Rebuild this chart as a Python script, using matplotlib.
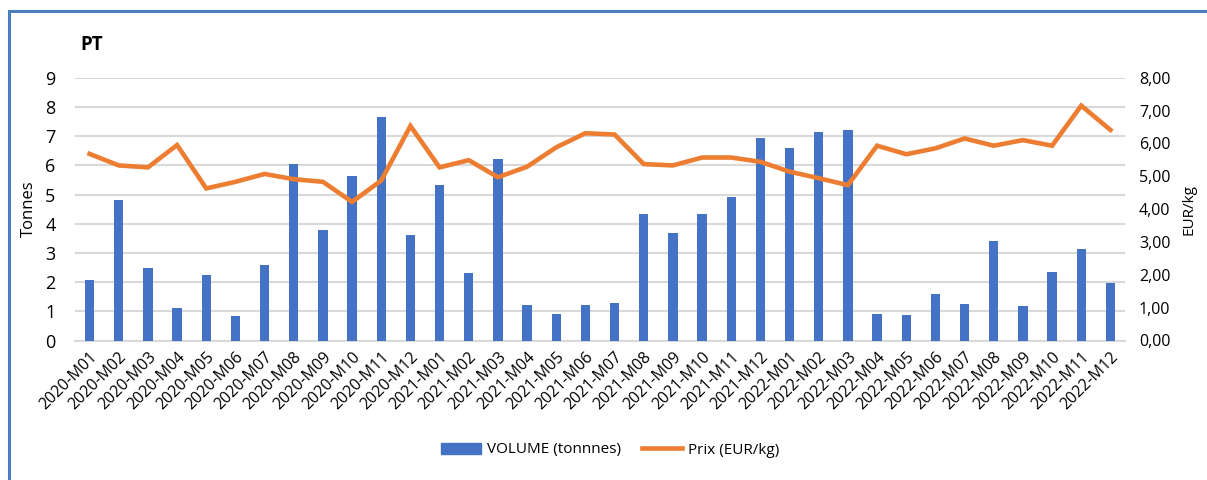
import matplotlib
matplotlib.use("Agg")
import matplotlib.pyplot as plt
from matplotlib.patches import Rectangle
from matplotlib.lines import Line2D
from matplotlib.ticker import FuncFormatter

plt.rcParams['font.family'] = ['Open Sans', 'DejaVu Sans']

months = [f"{y}-M{m:02d}" for y in (2020, 2021, 2022) for m in range(1, 13)]

volume_t = [2.06, 4.82, 2.50, 1.10, 2.26, 0.85, 2.60, 6.06, 3.77, 5.62, 7.66, 3.63,
            5.34, 2.30, 6.22, 1.20, 0.90, 1.22, 1.27, 4.34, 3.67, 4.34, 4.90, 6.95,
            6.59, 7.15, 7.21, 0.90, 0.89, 1.58, 1.26, 3.40, 1.18, 2.36, 3.12, 1.96]

prix_eur_kg = [5.68, 5.33, 5.27, 5.95, 4.63, 4.83, 5.07, 4.91, 4.83, 4.22, 4.87, 6.53,
               5.27, 5.49, 4.97, 5.29, 5.88, 6.31, 6.27, 5.37, 5.33, 5.57, 5.57, 5.44,
               5.14, 4.94, 4.73, 5.93, 5.67, 5.85, 6.15, 5.93, 6.10, 5.93, 7.15, 6.41]

BLUE = "#4472C4"
ORANGE = "#ED7D31"
GRID = "#D9D9D9"

W, H = 1207, 480
fig = plt.figure(figsize=(W / 100, H / 100), dpi=100)

# outer frame of the chart block
fig.patches.append(Rectangle((9 / W, -0.1), 1.2, (H - 11) / H + 0.1,
                             transform=fig.transFigure, fill=False,
                             edgecolor="#4A7EBF", linewidth=2.2))

left, right, top, bottom = 75, 1125, 77.7, 340.5
ax = fig.add_axes([left / W, 1 - bottom / H, (right - left) / W, (bottom - top) / H])
ax2 = ax.twinx()

x = list(range(len(months)))
ax.bar(x, volume_t, width=0.32, color=BLUE, zorder=3)
ax2.plot(x, prix_eur_kg, color=ORANGE, linewidth=3.3, solid_joinstyle="miter", zorder=4)

ax.set_xlim(-0.5, len(months) - 0.5)
ax.set_ylim(0, 9)
ax.set_yticks(range(0, 10))
ax2.set_ylim(0, 8)
ax2.set_yticks(range(0, 9))
ax2.yaxis.set_major_formatter(FuncFormatter(lambda v, p: f"{v:.2f}".replace(".", ",")))

ax.grid(axis="y", color=GRID, linewidth=1.5, zorder=0)
ax.set_axisbelow(True)
for a in (ax, ax2):
    for s in a.spines.values():
        s.set_visible(False)
    a.tick_params(length=0)
ax.spines["bottom"].set_visible(True)
ax.spines["bottom"].set_color(GRID)
ax.spines["bottom"].set_linewidth(1.5)
ax2.set_zorder(ax.get_zorder() + 1)

ax.set_xticks(x)
ax.set_xticklabels(months, rotation=45, ha="right", rotation_mode="anchor", fontsize=11.5)
ax.tick_params(axis="x", pad=6)
ax.tick_params(axis="y", labelsize=13, pad=14)
ax2.tick_params(axis="y", labelsize=11.5, pad=10)

ax.set_ylabel("Tonnes", fontsize=12, labelpad=6)
ax2.set_ylabel("EUR/kg", fontsize=11, labelpad=8)

fig.text(80 / W, 1 - 45 / H, "PT", fontsize=13.5, fontweight="bold", va="center", ha="left")

handles = [Rectangle((0, 0), 1, 1, color=BLUE),
           Line2D([0], [0], color=ORANGE, linewidth=3.3)]
fig.legend(handles, ["VOLUME (tonnnes)", "Prix (EUR/kg)"], loc="center",
           bbox_to_anchor=(610 / W, 1 - 450 / H), ncol=2, frameon=False,
           fontsize=11, handlelength=2.6, handletextpad=0.4, columnspacing=1.4)

fig.savefig("out.png", dpi=100)
